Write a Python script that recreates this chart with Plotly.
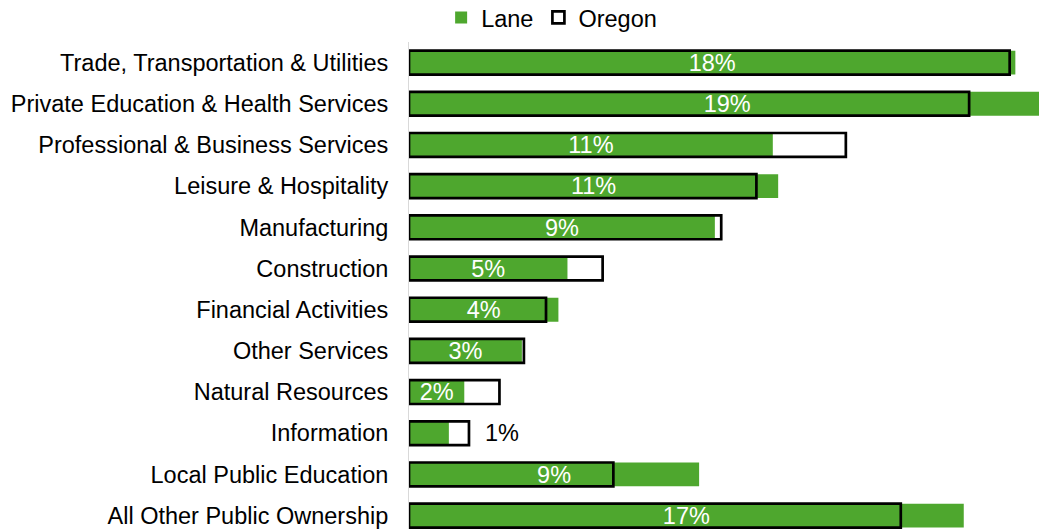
import plotly.graph_objects as go

categories = [
    "Trade, Transportation & Utilities",
    "Private Education & Health Services",
    "Professional & Business Services",
    "Leisure & Hospitality",
    "Manufacturing",
    "Construction",
    "Financial Activities",
    "Other Services",
    "Natural Resources",
    "Information",
    "Local Public Education",
    "All Other Public Ownership",
]
lane = [18.1, 19.0, 10.86, 11.02, 9.13, 4.73, 4.46, 3.37, 1.65, 1.19, 8.66, 16.56]
oregon = [17.93, 16.72, 13.04, 10.37, 9.32, 5.78, 4.09, 3.43, 2.70, 1.79, 6.10, 14.68]

GREEN = "#4EA72E"
FONT = "Arial, Liberation Sans, sans-serif"
FS = 23.5
Y_RANGE = [11.325, -0.5]
TEXT_NUDGE = 0.06  # small downward nudge so glyphs sit centred in the bar

lane_labels = [f"{round(v)}%" for v in lane]
outside_idx = categories.index("Information")
oregon_text = ["" if i != outside_idx else "\u00a0\u00a0" + lane_labels[i] for i in range(len(categories))]

# inside labels centred on each Lane bar
idx_in = [i for i in range(len(categories)) if i != outside_idx]
in_x = [lane[i] / 2 for i in idx_in]
in_y = [i + TEXT_NUDGE for i in idx_in]
in_t = [lane_labels[i] for i in idx_in]

fig = go.Figure()
fig.add_trace(go.Bar(
    name="Lane", y=categories, x=lane, orientation="h",
    marker=dict(color=GREEN, line=dict(width=0)),
    width=0.58, cliponaxis=False,
))
fig.add_trace(go.Bar(
    name="Oregon", y=categories, x=oregon, orientation="h",
    marker=dict(color="rgba(0,0,0,0)", line=dict(color="black", width=2.7)),
    width=0.58,
    text=oregon_text, textposition="outside",
    textfont=dict(color="black", size=FS, family=FONT),
    constraintext="none", cliponaxis=False,
))
fig.add_trace(go.Scatter(
    x=in_x, y=in_y, yaxis="y2", mode="text", text=in_t,
    textposition="middle center",
    textfont=dict(color="white", size=FS, family=FONT),
    showlegend=False, hoverinfo="skip", cliponaxis=False,
))

fig.update_layout(
    width=1039, height=529,
    margin=dict(l=409, r=0, t=42, b=0, autoexpand=False),
    barmode="overlay",
    paper_bgcolor="white", plot_bgcolor="white",
    font=dict(family=FONT, size=FS, color="black"),
    showlegend=True,
    legend=dict(
        orientation="h", x=0.051, y=1.05, xanchor="left", yanchor="middle",
        font=dict(size=FS, family=FONT, color="black"),
        itemwidth=30, traceorder="normal", bgcolor="rgba(0,0,0,0)",
    ),
    yaxis2=dict(overlaying="y", type="linear", range=Y_RANGE, visible=False,
                showgrid=False, zeroline=False),
)
fig.update_xaxes(range=[0, 630 / 33.5], showgrid=False, zeroline=False,
                 showticklabels=False, ticks="", showline=False)
fig.update_yaxes(selector=dict(overlaying=None))
fig.layout.yaxis.update(categoryorder="array", categoryarray=categories,
                        range=Y_RANGE, showgrid=False, zeroline=False,
                        ticks="", showline=True, linecolor="#D9D9D9", linewidth=1,
                        ticklabelstandoff=15,
                        tickfont=dict(size=FS, family=FONT, color="black"))

fig.write_html("out.html")
